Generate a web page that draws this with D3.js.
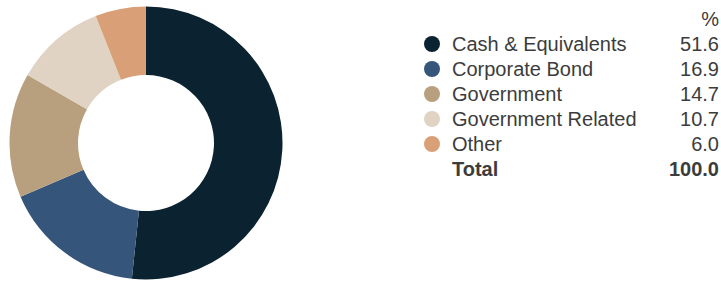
<!DOCTYPE html>
<html>
<head>
<meta charset="utf-8">
<script src="https://cdn.jsdelivr.net/npm/d3@7"></script>
<style>
  html, body { margin: 0; padding: 0; background: #fff; }
  svg { display: block; }
</style>
</head>
<body>
<svg id="chart" width="721" height="282"></svg>
<script>
// ── data ──
const categories = ['Cash & Equivalents', 'Corporate Bond', 'Government', 'Government Related', 'Other'];
const values     = [51.6, 16.9, 14.7, 10.7, 6.0];
const colors     = ['#0B2230', '#35557A', '#B8A07E', '#E0D3C3', '#D9A078'];
const totalLabel = 'Total';
const totalValue = '100.0';

const W = 721, H = 282;
const svg = d3.select('#chart');

// ── donut ──
const cx = 146, cy = 143, outerR = 136.5, innerR = 68;
const pie = d3.pie().sort(null).value(d => d);
const arc = d3.arc().innerRadius(innerR).outerRadius(outerR);

svg.append('g')
  .attr('transform', `translate(${cx},${cy})`)
  .selectAll('path')
  .data(pie(values))
  .join('path')
  .attr('d', arc)
  .attr('fill', (d, i) => colors[i]);

// ── legend table ──
const FONT = 'Liberation Sans, Arial, sans-serif';
const rowY = d3.scalePoint().domain(d3.range(categories.length + 1)).range([44, 169]);
const dotX = 432, textX = 452, valX = 719;

const lg = svg.append('g')
  .attr('font-family', FONT)
  .attr('font-size', 20)
  .attr('fill', '#3C3C3C');

lg.append('text')
  .attr('x', valX).attr('y', 19)
  .attr('dy', '0.35em')
  .attr('text-anchor', 'end')
  .text('%');

categories.forEach((c, i) => {
  const y = rowY(i);
  lg.append('circle')
    .attr('cx', dotX).attr('cy', y).attr('r', 8)
    .attr('fill', colors[i]);
  lg.append('text')
    .attr('x', textX).attr('y', y).attr('dy', '0.35em')
    .text(c);
  lg.append('text')
    .attr('x', valX).attr('y', y).attr('dy', '0.35em')
    .attr('text-anchor', 'end')
    .text(values[i].toFixed(1));
});

const ty = rowY(categories.length);
lg.append('text')
  .attr('x', textX).attr('y', ty).attr('dy', '0.35em')
  .attr('font-weight', 'bold')
  .text(totalLabel);
lg.append('text')
  .attr('x', valX).attr('y', ty).attr('dy', '0.35em')
  .attr('text-anchor', 'end')
  .attr('font-weight', 'bold')
  .text(totalValue);
</script>
</body>
</html>
